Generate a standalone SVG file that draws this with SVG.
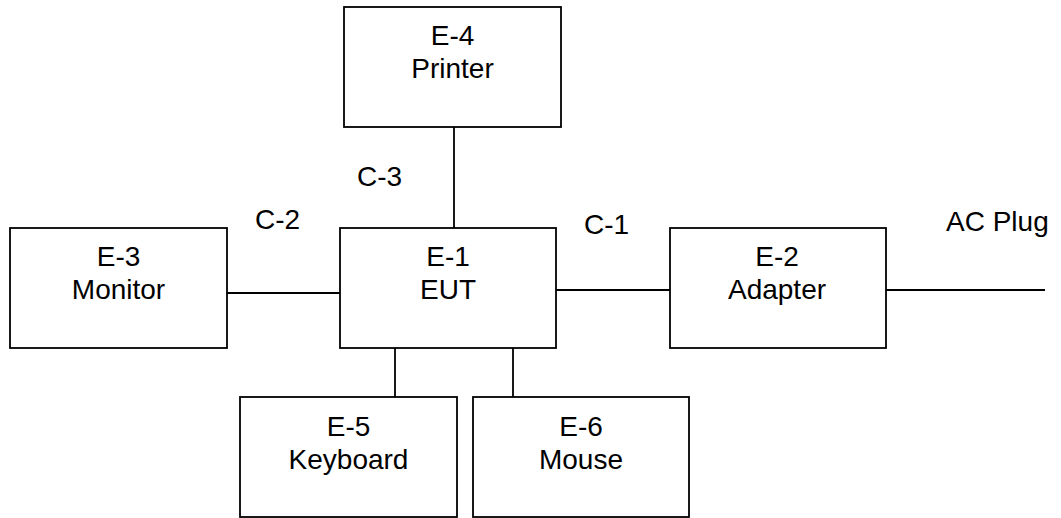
<svg xmlns="http://www.w3.org/2000/svg" width="1061" height="518" viewBox="0 0 1061 518">
<style>
.box{fill:#fff;stroke:#000;stroke-width:1.8}
.ln{stroke:#000;stroke-width:1.8;fill:none}
text{font-family:"Liberation Sans",Arial,sans-serif;font-size:28px;fill:#000}
.c{text-anchor:middle}
</style>
<rect width="1061" height="518" fill="#fff"/>
<g id="connectors">
<line class="ln" x1="454" y1="127" x2="454" y2="228"/>
<line class="ln" x1="227" y1="293" x2="340" y2="293"/>
<line class="ln" x1="556" y1="290" x2="670" y2="290"/>
<line class="ln" x1="886" y1="290" x2="1045" y2="290"/>
<line class="ln" x1="395" y1="348" x2="395" y2="397"/>
<line class="ln" x1="513" y1="348" x2="513" y2="397"/>
<text x="357" y="186">C-3</text>
<text x="255" y="229">C-2</text>
<text x="584" y="234">C-1</text>
<text x="946" y="231">AC Plug</text>
</g>
<g id="E-4">
<rect class="box" x="344" y="7" width="217" height="120"/>
<text class="c" x="452.5" y="45">E-4</text>
<text class="c" x="452.5" y="78">Printer</text>
</g>
<g id="E-3">
<rect class="box" x="10" y="228" width="217" height="120"/>
<text class="c" x="118.5" y="266">E-3</text>
<text class="c" x="118.5" y="299">Monitor</text>
</g>
<g id="E-1">
<rect class="box" x="340" y="228" width="216" height="120"/>
<text class="c" x="448" y="266">E-1</text>
<text class="c" x="448" y="299">EUT</text>
</g>
<g id="E-2">
<rect class="box" x="670" y="228" width="216" height="120"/>
<text class="c" x="777" y="266">E-2</text>
<text class="c" x="777" y="299">Adapter</text>
</g>
<g id="E-5">
<rect class="box" x="240" y="397" width="217" height="120"/>
<text class="c" x="348.5" y="436">E-5</text>
<text class="c" x="348.5" y="469">Keyboard</text>
</g>
<g id="E-6">
<rect class="box" x="473" y="397" width="216" height="120"/>
<text class="c" x="581" y="436">E-6</text>
<text class="c" x="581" y="469">Mouse</text>
</g>
</svg>
